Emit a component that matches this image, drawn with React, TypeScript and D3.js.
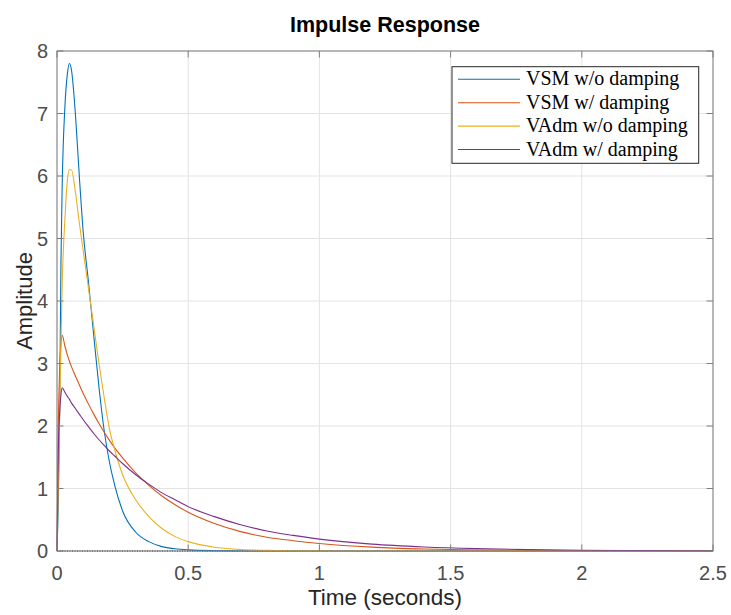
import React from "react";
import * as d3 from "d3";

const time = [0, 0.005, 0.01, 0.015, 0.02, 0.03, 0.04, 0.047, 0.055, 0.07, 0.085, 0.1, 0.12, 0.14, 0.16, 0.18, 0.2, 0.22, 0.25, 0.3, 0.35, 0.4, 0.45, 0.5, 0.6, 0.7, 0.8, 0.9, 1.0, 1.2, 1.4, 1.6, 1.8, 2.0, 2.25, 2.5];

const vsmNoDamping = [0, 0.8, 2.2, 4.6, 5.9, 7.1, 7.65, 7.8, 7.7, 7.0, 6.0, 5.1, 4.3, 3.45, 2.62, 1.92, 1.42, 1.05, 0.64, 0.3, 0.15, 0.07, 0.035, 0.018, 0.005, 0.001, 0, 0, 0, 0, 0, 0, 0, 0, 0, 0];
const vsmDamping = [0, 2.0, 2.9, 3.3, 3.45, 3.28, 3.13, 3.04, 2.95, 2.8, 2.66, 2.52, 2.35, 2.19, 2.04, 1.9, 1.77, 1.65, 1.49, 1.25, 1.05, 0.88, 0.74, 0.62, 0.44, 0.31, 0.22, 0.165, 0.12, 0.062, 0.032, 0.017, 0.009, 0.005, 0.002, 0.001];
const vadmNoDamping = [0, 1.0, 2.2, 3.3, 4.3, 5.3, 5.95, 6.1, 6.1, 5.75, 5.25, 4.8, 4.2, 3.6, 3.0, 2.45, 1.95, 1.62, 1.22, 0.82, 0.55, 0.36, 0.23, 0.15, 0.06, 0.025, 0.01, 0.004, 0.002, 0, 0, 0, 0, 0, 0, 0];
const vadmDamping = [0, 1.6, 2.2, 2.5, 2.61, 2.54, 2.47, 2.43, 2.37, 2.28, 2.19, 2.1, 1.99, 1.88, 1.78, 1.69, 1.6, 1.52, 1.4, 1.22, 1.07, 0.93, 0.82, 0.71, 0.55, 0.42, 0.32, 0.25, 0.19, 0.11, 0.065, 0.038, 0.022, 0.013, 0.007, 0.003];

const seriesNames = ["VSM w/o damping", "VSM w/ damping", "VAdm w/o damping", "VAdm w/ damping"];
const seriesValues = [vsmNoDamping, vsmDamping, vadmNoDamping, vadmDamping];
const seriesColors = ["#0072BD", "#D95319", "#EDB120", "#7E2F8E"];

const xTicks = [0, 0.5, 1, 1.5, 2, 2.5];
const yTicks = [0, 1, 2, 3, 4, 5, 6, 7, 8];

const W = 731, H = 615;
const L = 57, R = 713, T = 51, B = 551;
const SANS = "'Liberation Sans', Arial, Helvetica, sans-serif";
const SERIF = "'Liberation Serif', 'Times New Roman', serif";

export default function App() {
  const x = d3.scaleLinear().domain([0, 2.5]).range([L, R]);
  const y = d3.scaleLinear().domain([0, 8]).range([B, T]);
  const line = d3.line<number>()
    .x((_, i) => x(time[i]))
    .y((v) => y(v))
    .curve(d3.curveMonotoneX);
  const tick = 6.5;
  const axisColor = "#7f7f7f";
  const gridColor = "#e3e3e3";
  const legX = 452, legY = 66.7, legW = 246.7, legH = 96.6;
  const rowH = 23.4;

  return (
    <svg width={W} height={H} style={{ position: "absolute", left: 0, top: 0, background: "#fff" }}>
      <rect x={0} y={0} width={W} height={H} fill="#fff" />
      {xTicks.map((t) => (
        <line key={"gx" + t} x1={x(t)} x2={x(t)} y1={T} y2={B} stroke={gridColor} strokeWidth={1} />
      ))}
      {yTicks.map((t) => (
        <line key={"gy" + t} x1={L} x2={R} y1={y(t)} y2={y(t)} stroke={gridColor} strokeWidth={1} />
      ))}
      <line x1={x(0)} x2={x(2.5)} y1={y(0)} y2={y(0)} stroke="#000" strokeWidth={1} strokeDasharray="1,1.5" />
      {seriesValues.map((vals, i) => (
        <path key={"s" + i} d={line(vals) || ""} fill="none" stroke={seriesColors[i]} strokeWidth={1.1} />
      ))}
      <rect x={L} y={T} width={R - L} height={B - T} fill="none" stroke={axisColor} strokeWidth={1} />
      {xTicks.map((t) => (
        <g key={"tx" + t}>
          <line x1={x(t)} x2={x(t)} y1={B} y2={B - tick} stroke={axisColor} />
          <line x1={x(t)} x2={x(t)} y1={T} y2={T + tick} stroke={axisColor} />
          <text x={x(t)} y={580} textAnchor="middle" fontFamily={SANS} fontSize={20} fill="#4d4d4d">{String(t)}</text>
        </g>
      ))}
      {yTicks.map((t) => (
        <g key={"ty" + t}>
          <line x1={L} x2={L + tick} y1={y(t)} y2={y(t)} stroke={axisColor} />
          <line x1={R} x2={R - tick} y1={y(t)} y2={y(t)} stroke={axisColor} />
          <text x={48} y={y(t) + 7} textAnchor="end" fontFamily={SANS} fontSize={20} fill="#4d4d4d">{String(t)}</text>
        </g>
      ))}
      <text x={(L + R) / 2} y={32} textAnchor="middle" fontFamily={SANS} fontSize={21.5} fontWeight="bold" fill="#000">Impulse Response</text>
      <text x={(L + R) / 2} y={605} textAnchor="middle" fontFamily={SANS} fontSize={22.5} fill="#262626">Time (seconds)</text>
      <text transform={`translate(32, ${(T + B) / 2}) rotate(-90)`} textAnchor="middle" fontFamily={SANS} fontSize={22} fill="#262626">Amplitude</text>
      <rect x={legX} y={legY} width={legW} height={legH} fill="#fff" stroke="#262626" strokeWidth={1} />
      {seriesNames.map((name, i) => {
        const ry = 79.3 + i * rowH;
        return (
          <g key={"lg" + i}>
            <line x1={458} x2={520} y1={ry} y2={ry} stroke={seriesColors[i]} strokeWidth={1.1} />
            <text x={526} y={ry + 6} fontFamily={SERIF} fontSize={20} fill="#000">{name}</text>
          </g>
        );
      })}
    </svg>
  );
}
